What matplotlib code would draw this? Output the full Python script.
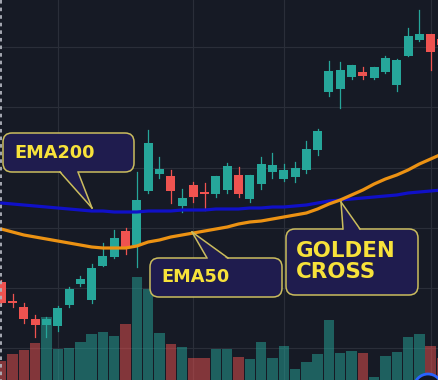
import matplotlib
matplotlib.use("Agg")
import matplotlib.pyplot as plt
from matplotlib.patches import FancyBboxPatch, Polygon, Rectangle, Circle

# Candles (arbitrary price units, bigger = higher)
OPEN = [98, 79, 73, 61, 55, 54, 75, 96, 80, 114, 123, 149, 135, 189, 206, 204,
        174, 195, 188, 186, 190, 205, 181, 196, 208, 201, 203, 210, 230, 288,
        291, 303, 308, 302, 308, 295, 324, 340, 346, 341]
HIGH = [100, 86, 77, 65, 63, 74, 93, 104, 116, 137, 150, 152, 208, 250, 223, 210,
        191, 198, 197, 204, 217, 213, 205, 223, 227, 216, 218, 239, 251, 319,
        318, 315, 313, 313, 324, 321, 352, 370, 346, 343]
LOW = [75, 73, 57, 43, 43, 49, 73, 94, 77, 114, 122, 126, 113, 187, 202, 177,
       168, 178, 170, 183, 187, 183, 178, 191, 202, 199, 198, 207, 225, 284,
       272, 301, 301, 301, 307, 289, 324, 339, 310, 332]
CLOSE = [77, 77, 61, 55, 61, 72, 91, 101, 112, 124, 142, 132, 180, 237, 211, 189,
         182, 183, 186, 204, 214, 186, 205, 216, 215, 210, 212, 231, 249, 309,
         310, 315, 304, 313, 322, 320, 344, 346, 328, 335]
VOLUME = [19, 26, 30, 37, 63, 31, 32, 38, 46, 48, 44, 56, 103, 91, 47, 36, 33, 22,
          22, 31, 31, 23, 21, 38, 22, 34, 11, 18, 26, 60, 27, 29, 27, 3, 24, 28,
          43, 46, 34, 22]
EMA50 = [151, 148, 145, 143, 141, 139, 137, 135, 133, 132, 132, 132, 134, 138,
         140, 143, 145, 147, 149, 151, 153, 156, 158, 159, 161, 163, 165, 167,
         171, 176, 180, 185, 190, 196, 201, 205, 210, 216, 221, 226]
EMA200 = [177, 176, 175, 174, 173, 172, 171, 170, 169, 169, 168, 168, 168, 169,
          169, 169, 170, 170, 170, 171, 171, 171, 172, 172, 173, 173, 174, 175,
          177, 179, 180, 181, 182, 183, 184, 185, 187, 188, 189, 190]

GRID_X = [5, 17, 25, 38]
GRID_Y = [32, 92, 152, 212, 273, 333]

BG = "#161a25"
GRID = "#2a2e39"
UP = "#26a69a"
DOWN = "#ef5350"
BOX_FILL = "#1f1c4e"
BOX_EDGE = "#cbbd5e"
TEXT_YELLOW = "#f7e23a"


def draw_candles(ax):
    for i in range(len(OPEN)):
        color = UP if CLOSE[i] >= OPEN[i] else DOWN
        # volume bar at the bottom
        ax.add_patch(Rectangle((i - 0.46, 0), 0.92, VOLUME[i],
                               facecolor=color, alpha=0.5, lw=0, zorder=1))
        # wick and body
        ax.plot([i, i], [LOW[i], HIGH[i]], color=color, lw=0.9, zorder=3)
        bottom = min(OPEN[i], CLOSE[i])
        height = max(abs(CLOSE[i] - OPEN[i]), 1.2)
        ax.add_patch(Rectangle((i - 0.4, bottom), 0.8, height,
                               facecolor=color, lw=0, zorder=3))


def draw_callout(ax, box, base, tip, lines, size):
    x0, y0, x1, y1 = box
    ax.add_patch(FancyBboxPatch((x0, y0), x1 - x0, y1 - y0,
                                boxstyle="round,pad=0,rounding_size=9",
                                facecolor=BOX_FILL, edgecolor=BOX_EDGE,
                                lw=1.1, zorder=5))
    bx0, bx1, by = base
    inset = 1.5 if tip[1] > by else -1.5
    ax.add_patch(Polygon([(bx0, by - inset), (bx1, by - inset), tip],
                         closed=True, facecolor=BOX_FILL, lw=0, zorder=6))
    for bx in (bx0, bx1):
        ax.plot([bx, tip[0]], [by, tip[1]], color=BOX_EDGE, lw=1.1, zorder=7)
    for text, tx, ty in lines:
        ax.text(tx, ty, text, color=TEXT_YELLOW, fontsize=size,
                fontweight="bold", family="DejaVu Sans",
                ha="left", va="center", zorder=8)


def main():
    fig = plt.figure(figsize=(4.39, 3.80), dpi=100, facecolor=BG)

    # price / volume panel
    ax = fig.add_axes([0, 0, 1, 1], facecolor=BG)
    ax.set_xlim(-0.11, 38.74)
    ax.set_ylim(0, 380)
    for gx in GRID_X:
        ax.axvline(gx, color=GRID, lw=0.8, zorder=0)
    for gy in GRID_Y:
        ax.axhline(gy, color=GRID, lw=0.8, zorder=0)

    draw_candles(ax)

    x = list(range(len(EMA200)))
    ax.plot(x, EMA200, color="#1010c8", lw=2.3, zorder=4, solid_capstyle="round")
    ax.plot(x, EMA50, color="#ec9213", lw=2.3, zorder=4, solid_capstyle="round")
    ax.axis("off")

    # overlay in pixel coordinates for the callouts
    ov = fig.add_axes([0, 0, 1, 1])
    ov.set_xlim(0, 439)
    ov.set_ylim(380, 0)
    ov.axis("off")

    # dashed left border
    ov.plot([0.8, 0.8], [0, 380], color="#b2b5be", lw=1.3,
            linestyle=(0, (2, 2.2)), zorder=2)

    draw_callout(ov, (3, 133, 134, 172), (60, 78, 172), (92, 208),
                 [("EMA200", 14, 152.5)], 12.8)
    draw_callout(ov, (150, 258, 282, 297), (207, 228, 258), (192, 232),
                 [("EMA50", 161, 277.5)], 12.8)
    draw_callout(ov, (286, 229, 418, 295), (343, 360, 229), (341, 202),
                 [("GOLDEN", 296, 251), ("CROSS", 296, 272.5)], 15.4)

    # logo circle cut by the bottom edge
    ov.add_patch(Circle((428, 388), 14, facecolor="#131722",
                        edgecolor="#2962ff", lw=2, zorder=9))

    fig.savefig("out.png", dpi=100, facecolor=BG)


if __name__ == "__main__":
    main()
